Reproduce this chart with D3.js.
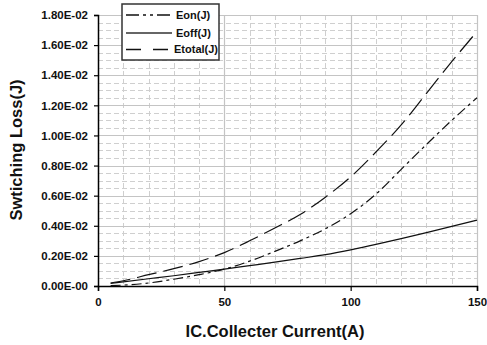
<!DOCTYPE html>
<html>
<head>
<meta charset="utf-8">
<script src="https://cdn.jsdelivr.net/npm/d3@7"></script>
<style>
  html, body { margin: 0; padding: 0; background: #fff; }
  svg { display: block; font-family: "Liberation Sans", Arial, sans-serif; }
</style>
</head>
<body>
<svg id="chart" width="487" height="345"></svg>
<script>
// Collector current (A)
const current = [5, 10, 20, 30, 40, 50, 60, 70, 80, 90, 100, 110, 120, 130, 140, 150];
// Switching energies, in units of 1E-02 J
const eon    = [0.002, 0.006, 0.02, 0.045, 0.075, 0.112, 0.165, 0.23, 0.30, 0.38, 0.48, 0.61, 0.775, 0.94, 1.10, 1.25];
const eoff   = [0.018, 0.028, 0.048, 0.068, 0.09, 0.112, 0.135, 0.158, 0.183, 0.208, 0.240, 0.276, 0.315, 0.355, 0.396, 0.438];
const etotal = [0.02, 0.035, 0.075, 0.115, 0.162, 0.222, 0.30, 0.385, 0.475, 0.59, 0.725, 0.89, 1.07, 1.28, 1.49, 1.69];
const yTicks = [0, 0.2, 0.4, 0.6, 0.8, 1.0, 1.2, 1.4, 1.6, 1.8];
const yTickLabels = ["0.00E-00", "0.20E-02", "0.40E-02", "0.60E-02", "0.80E-02",
                     "1.00E-02", "1.20E-02", "1.40E-02", "1.60E-02", "1.80E-02"];
const xTicks = [0, 50, 100, 150];
const seriesNames = ["Eon(J)", "Eoff(J)", "Etotal(J)"];

const svg = d3.select("#chart");
const plotL = 98, plotR = 477, plotT = 15, plotB = 286;

const x = d3.scaleLinear().domain([0, 150]).range([plotL, plotR]);
const y = d3.scaleLinear().domain([0, 1.8]).range([plotB, plotT]);

const grid = svg.append("g");
// minor horizontal grid (dashed)
const minorY = d3.range(0.05, 1.8, 0.05).filter(v => Math.abs(v / 0.2 - Math.round(v / 0.2)) > 0.01);
grid.selectAll(".hminor").data(minorY).enter().append("line")
  .attr("x1", plotL).attr("x2", plotR)
  .attr("y1", d => Math.round(y(d)) + 0.5).attr("y2", d => Math.round(y(d)) + 0.5)
  .attr("stroke", "#cfcfcf").attr("stroke-width", 1).attr("stroke-dasharray", "5,3");
// minor vertical grid (dashed)
const minorX = d3.range(10, 150, 10).filter(v => v % 50 !== 0);
grid.selectAll(".vminor").data(minorX).enter().append("line")
  .attr("y1", plotT).attr("y2", plotB)
  .attr("x1", d => Math.round(x(d)) + 0.5).attr("x2", d => Math.round(x(d)) + 0.5)
  .attr("stroke", "#cfcfcf").attr("stroke-width", 1).attr("stroke-dasharray", "5,3");
// major horizontal grid
grid.selectAll(".hmajor").data(yTicks.slice(1)).enter().append("line")
  .attr("x1", plotL).attr("x2", plotR)
  .attr("y1", d => Math.round(y(d)) + 0.5).attr("y2", d => Math.round(y(d)) + 0.5)
  .attr("stroke", "#c4c4c4").attr("stroke-width", 1.2);
// major vertical grid
grid.selectAll(".vmajor").data([50, 100, 150]).enter().append("line")
  .attr("y1", plotT).attr("y2", plotB)
  .attr("x1", d => Math.round(x(d)) + 0.5).attr("x2", d => Math.round(x(d)) + 0.5)
  .attr("stroke", "#c4c4c4").attr("stroke-width", 1.2);

// axes
const yAxis = d3.axisLeft(y).tickValues(yTicks).tickSize(4).tickPadding(6)
  .tickFormat((d, i) => yTickLabels[i]);
const gy = svg.append("g").attr("transform", `translate(${plotL},0)`).call(yAxis);
gy.select(".domain").attr("stroke", "#000").attr("stroke-width", 1.5);
gy.selectAll(".tick line").attr("stroke", "#000").attr("stroke-width", 1.2);
gy.selectAll(".tick text").attr("font-size", 11.5).attr("font-weight", "bold")
  .attr("font-family", "Liberation Sans, Arial, sans-serif").attr("fill", "#111");

const xAxis = d3.axisBottom(x).tickValues(xTicks).tickSize(5).tickPadding(7)
  .tickFormat(d3.format("d"));
const gx = svg.append("g").attr("transform", `translate(0,${plotB})`).call(xAxis);
gx.select(".domain").attr("stroke", "#000").attr("stroke-width", 1.5);
gx.selectAll(".tick line").attr("stroke", "#000").attr("stroke-width", 1.2);
gx.selectAll(".tick text").attr("font-size", 11.5).attr("font-weight", "bold")
  .attr("font-family", "Liberation Sans, Arial, sans-serif").attr("fill", "#111");

// curves
const line = d3.line().x(d => x(d[0])).y(d => y(d[1])).curve(d3.curveMonotoneX);
const series = [
  { values: eon,    dash: "10,4,3,4", width: 1.2 },
  { values: eoff,   dash: null,       width: 1.2 },
  { values: etotal, dash: "20,7",     width: 1.2 }
];
svg.append("g").selectAll("path").data(series).enter().append("path")
  .attr("d", s => line(current.map((c, i) => [c, s.values[i]])))
  .attr("fill", "none").attr("stroke", "#111")
  .attr("stroke-width", s => s.width)
  .attr("stroke-dasharray", s => s.dash);

// legend
const lg = svg.append("g");
lg.append("rect").attr("x", 122).attr("y", 4).attr("width", 97).attr("height", 56)
  .attr("fill", "#fff").attr("stroke", "#333").attr("stroke-width", 1.5);
const legendItems = [
  { name: seriesNames[0], y: 15, dash: "13,4,3,4,3,4", color: "#111", width: 1.3, tx: 176 },
  { name: seriesNames[1], y: 33, dash: null, color: "#666", width: 2.2, tx: 176 },
  { name: seriesNames[2], y: 49.5, dash: "15,12", color: "#111", width: 1.3, tx: 174 }
];
legendItems.forEach(it => {
  lg.append("line").attr("x1", 126).attr("x2", 172).attr("y1", it.y).attr("y2", it.y)
    .attr("stroke", it.color).attr("stroke-width", it.width).attr("stroke-dasharray", it.dash);
  lg.append("text").attr("x", it.tx).attr("y", it.y).attr("dy", "0.36em")
    .attr("font-size", 11).attr("font-weight", "bold").attr("fill", "#111").text(it.name);
});

// axis titles
svg.append("text").attr("x", 275).attr("y", 337).attr("text-anchor", "middle")
  .attr("font-size", 16.5).attr("font-weight", "bold").attr("fill", "#111")
  .text("IC.Collecter Current(A)");
svg.append("text").attr("transform", "translate(22,150) rotate(-90)")
  .attr("text-anchor", "middle")
  .attr("font-size", 16.5).attr("font-weight", "bold").attr("fill", "#111")
  .text("Swtiching Loss(J)");
</script>
</body>
</html>
